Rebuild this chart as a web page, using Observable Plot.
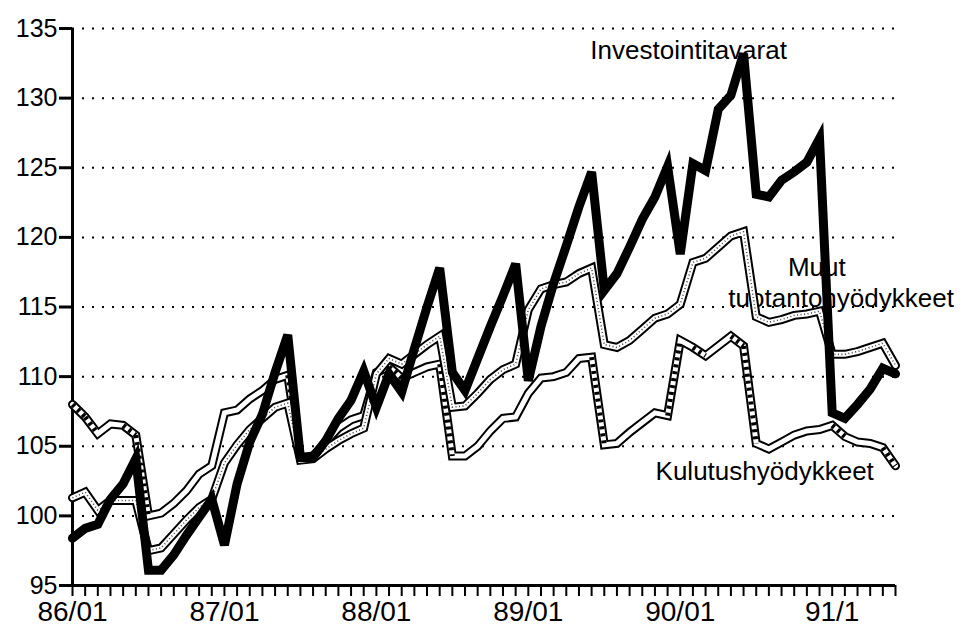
<!DOCTYPE html>
<html>
<head>
<meta charset="utf-8">
<script src="https://cdn.jsdelivr.net/npm/d3@7"></script>
<script src="https://cdn.jsdelivr.net/npm/@observablehq/plot@0.6"></script>
<style>
  html, body { margin: 0; padding: 0; background: #fff; }
  #chart svg { display: block; overflow: visible; }
</style>
</head>
<body>
<div id="chart"></div>
<script>
// Monthly index values, 86/01 .. 91/06
const investointitavarat = [
  98.4, 99.1, 99.4, 101.2, 102.3, 104.1, 96.1, 96.1, 97.2, 98.6, 99.9, 101.2,
  97.9, 102.3, 105.3, 107.3, 110.3, 113.0, 104.2, 104.2, 105.4, 107.0, 108.3, 110.4,
  107.8, 110.2, 108.9, 112.0, 115.0, 117.8, 110.3, 109.0, 111.3, 113.6, 115.8, 118.1,
  109.7, 113.6, 116.7, 119.4, 122.2, 124.7, 116.2, 117.4, 119.3, 121.3, 122.9, 125.1,
  118.8, 125.3, 124.8, 129.2, 130.2, 133.2, 123.1, 122.9, 124.1, 124.7, 125.4, 127.1,
  107.4, 107.0, 108.0, 109.1, 110.6, 110.2
];
const muutTuotantohyodykkeet = [
  101.3, 101.7, 100.4, 101.1, 101.1, 101.1, 97.5, 97.7, 98.7, 99.7, 100.6, 101.2,
  103.8, 105.1, 106.2, 107.0, 107.8, 108.1, 104.0, 104.1, 104.8, 105.4, 105.9, 106.3,
  110.2, 111.3, 110.9, 111.6, 112.3, 112.9, 107.8, 107.9, 108.8, 109.8, 110.5, 110.9,
  114.8, 116.3, 116.6, 116.8, 117.4, 117.8, 112.3, 112.1, 112.6, 113.4, 114.2, 114.5,
  115.2, 118.2, 118.5, 119.3, 120.1, 120.4, 114.3, 113.9, 114.1, 114.4, 114.5, 114.7,
  111.6, 111.6, 111.8, 112.1, 112.4, 110.8
];
const kulutushyodykkeet = [
  108.0, 107.1, 105.9, 106.6, 106.5, 105.8, 100.0, 100.2, 100.9, 101.8, 103.0, 103.6,
  107.4, 107.6, 108.4, 109.0, 109.8, 110.1, 104.2, 104.3, 105.3, 106.3, 106.9, 107.2,
  110.3, 110.7, 109.9, 110.3, 110.7, 110.9, 104.3, 104.3, 105.0, 106.1, 107.0, 107.1,
  108.8, 109.9, 110.0, 110.3, 111.3, 111.4, 105.1, 105.2, 106.0, 106.7, 107.4, 107.2,
  112.6, 112.1, 111.5, 112.2, 112.9, 112.2, 105.2, 104.8, 105.3, 105.8, 106.1, 106.2,
  106.5, 105.7, 105.3, 105.2, 104.9, 103.6
];

const xTickPositions = [0, 12, 24, 36, 48, 60];
const xTickLabels = ["86/01", "87/01", "88/01", "89/01", "90/01", "91/1"];
const yTicks = [95, 100, 105, 110, 115, 120, 125, 130, 135];

const seriesLabels = ["Investointitavarat", "Muut", "tuotantohyödykkeet", "Kulutushyödykkeet"];
const seriesLabelX = [40.9, 56.5, 51.8, 46.05];
const seriesLabelY = [133.44, 117.85, 115.62, 103.14];

// build tables
const rows = investointitavarat.map((v, i) => ({
  i, inv: v, muut: muutTuotantohyodykkeet[i], kul: kulutushyodykkeet[i]
}));
const kulDashSegs = d3.pairs(rows)
  .filter(([a, b]) => (b.kul - a.kul) < -0.5 || (b.kul - a.kul) > 4)
  .map(([a, b]) => ({x1: a.i, y1: a.kul, x2: b.i, y2: b.kul}));
const labels = seriesLabels.map((t, k) => ({t, x: seriesLabelX[k], y: seriesLabelY[k]}));

const FONT = "'Liberation Sans', Arial, Helvetica, sans-serif";

const chart = Plot.plot({
  width: 967,
  height: 631,
  marginLeft: 72,
  marginRight: 72,
  marginTop: 28,
  marginBottom: 46,
  x: {domain: [0, rows.length - 1]},
  y: {domain: [95, 135]},
  style: {fontFamily: FONT, fontSize: "25px", color: "black", background: "white", overflow: "visible"},
  marks: [
    Plot.gridY(yTicks.filter(d => d > 95), {stroke: "black", strokeOpacity: 1, strokeWidth: 2, strokeDasharray: "2,8", strokeDashoffset: -10}),
    Plot.axisY({ticks: yTicks, tickSize: 13, tickPadding: 2, strokeWidth: 3, fontSize: 25, label: null, tickFormat: d => String(d)}),
    Plot.axisX({ticks: d3.range(rows.length), tickSize: 11, tickPadding: 5, strokeWidth: 2, fontSize: 28,
      label: null, tickFormat: d => { const k = xTickPositions.indexOf(d); return k >= 0 ? xTickLabels[k] : ""; }}),
    Plot.ruleX([0], {strokeWidth: 3}),
    Plot.ruleY([95], {strokeWidth: 3}),
    Plot.text(labels, {x: "x", y: "y", text: "t", textAnchor: "start", fontSize: 26, fill: "black"}),
    // Kulutushyödykkeet: outlined white line with hatch dashes
    Plot.line(rows, {x: "i", y: "kul", stroke: "black", strokeWidth: 9, strokeLinejoin: "miter", strokeMiterlimit: 3}),
    Plot.line(rows, {x: "i", y: "kul", stroke: "white", strokeWidth: 5, strokeLinejoin: "miter", strokeMiterlimit: 3}),
    Plot.link(kulDashSegs, {x1: "x1", y1: "y1", x2: "x2", y2: "y2", stroke: "black", strokeWidth: 5, strokeDasharray: "3,4", strokeLinecap: "butt"}),
    // Muut tuotantohyödykkeet: outlined white line with dots
    Plot.line(rows, {x: "i", y: "muut", stroke: "black", strokeWidth: 9, strokeLinejoin: "miter", strokeMiterlimit: 3}),
    Plot.line(rows, {x: "i", y: "muut", stroke: "white", strokeWidth: 5, strokeLinejoin: "miter", strokeMiterlimit: 3}),
    Plot.line(rows, {x: "i", y: "muut", stroke: "#444", strokeWidth: 1.6, strokeDasharray: "1,2.5", strokeLinecap: "butt"}),
    // Investointitavarat: thick black line
    Plot.line(rows, {x: "i", y: "inv", stroke: "black", strokeWidth: 9, strokeLinejoin: "miter", strokeMiterlimit: 4})
  ]
});
document.getElementById("chart").appendChild(chart);
</script>
</body>
</html>
